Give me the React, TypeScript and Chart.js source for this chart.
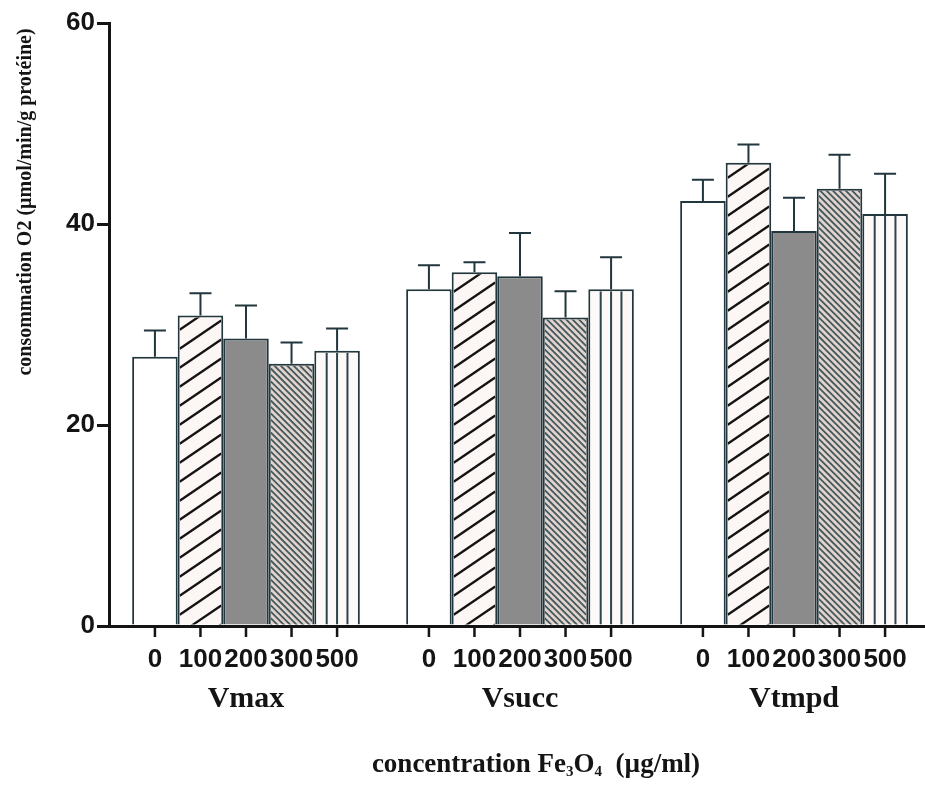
import React, { useEffect, useRef } from 'react';
import { Chart, registerables } from 'chart.js';

Chart.register(...registerables);

// ---- data ----
const groups = ['Vmax', 'Vsucc', 'Vtmpd'];
const concentrations = ['0', '100', '200', '300', '500'];
const mean0 = [26.8, 33.5, 42.3];
const err0 = [2.6, 2.4, 2.1];
const mean100 = [30.9, 35.2, 46.1];
const err100 = [2.2, 1.0, 1.8];
const mean200 = [28.6, 34.8, 39.3];
const err200 = [3.3, 4.3, 3.3];
const mean300 = [26.1, 30.7, 43.5];
const err300 = [2.1, 2.6, 3.4];
const mean500 = [27.4, 33.5, 41.0];
const err500 = [2.2, 3.2, 4.0];
const yMin = 0;
const yMax = 60;
const yStep = 20;
const yTitle = 'consommation O2 (µmol/min/g protéine)';
const xTitleParts = ['concentration Fe', '3', 'O', '4', '  (µg/ml)'];

const INK = '#141414';
const EDGE = '#22363d';
const BW = 2;

const fills = ['#ffffff', '#fcf7f5', '#8b8b8b', '#e2d3cd', '#fdf9f8'];
const patterns = ['none', 'wide', 'none', 'fine', 'vertical'];

function drawPattern(ctx: CanvasRenderingContext2D, kind: string, left: number, top: number, right: number, base: number) {
  const w = right - left;
  if (kind === 'wide') {
    ctx.strokeStyle = INK;
    ctx.lineWidth = 2.3;
    const gap = 19;
    const rise = w * 0.68;
    ctx.beginPath();
    for (let y0 = base + rise; y0 > top - gap; y0 -= gap) {
      ctx.moveTo(left, y0);
      ctx.lineTo(right, y0 - rise);
    }
    ctx.stroke();
  } else if (kind === 'fine') {
    ctx.strokeStyle = '#44595f';
    ctx.lineWidth = 1.8;
    const gap = 6.4;
    ctx.beginPath();
    for (let y0 = base; y0 > top - w - gap; y0 -= gap) {
      ctx.moveTo(left, y0);
      ctx.lineTo(right, y0 + w);
    }
    ctx.stroke();
  } else if (kind === 'vertical') {
    ctx.strokeStyle = '#2c444c';
    ctx.lineWidth = 2;
    ctx.beginPath();
    for (let k = 1; k <= 3; k++) {
      const x = left + (w * k) / 4;
      ctx.moveTo(x, top);
      ctx.lineTo(x, base);
    }
    ctx.stroke();
  }
}

const decorPlugin = {
  id: 'decor',
  afterDatasetsDraw(chart: any) {
    const ctx: CanvasRenderingContext2D = chart.ctx;
    const yScale = chart.scales.y;
    const xScale = chart.scales.x;
    chart.data.datasets.forEach((ds: any, di: number) => {
      const meta = chart.getDatasetMeta(di);
      meta.data.forEach((bar: any, j: number) => {
        const { x, y, base, width } = bar.getProps(['x', 'y', 'base', 'width'], true);
        const left = x - width / 2;
        const right = x + width / 2;
        // pattern inside the bar
        ctx.save();
        ctx.beginPath();
        ctx.rect(left + BW, y + BW, width - 2 * BW, base - y - BW);
        ctx.clip();
        drawPattern(ctx, patterns[di], left + BW, y + BW, right - BW, base);
        ctx.restore();
        // error bar (upper only)
        const v = ds.data[j];
        const e = ds.errors[j];
        const yTop = yScale.getPixelForValue(v + e);
        ctx.save();
        ctx.strokeStyle = EDGE;
        ctx.lineWidth = 2;
        ctx.beginPath();
        ctx.moveTo(x, y);
        ctx.lineTo(x, yTop);
        ctx.moveTo(x - 11, yTop);
        ctx.lineTo(x + 11, yTop);
        ctx.stroke();
        ctx.restore();
        // tick under the axis and concentration label
        ctx.save();
        ctx.strokeStyle = INK;
        ctx.lineWidth = 2.5;
        ctx.beginPath();
        ctx.moveTo(x, xScale.top);
        ctx.lineTo(x, xScale.top + 11);
        ctx.stroke();
        ctx.fillStyle = INK;
        ctx.font = 'bold 26px "Liberation Sans", Arial, sans-serif';
        ctx.textAlign = 'center';
        ctx.textBaseline = 'middle';
        ctx.fillText(ds.label, x, xScale.top + 34);
        ctx.restore();
      });
    });
  },
  afterDraw(chart: any) {
    const ctx: CanvasRenderingContext2D = chart.ctx;
    const yScale = chart.scales.y;
    const xScale = chart.scales.x;
    // y axis title
    ctx.save();
    ctx.fillStyle = INK;
    ctx.font = 'bold 20px "Liberation Serif", "Times New Roman", serif';
    ctx.textAlign = 'center';
    ctx.textBaseline = 'middle';
    ctx.translate(yScale.left + 26, yScale.top + 179);
    ctx.rotate(-Math.PI / 2);
    ctx.fillText(yTitle, 0, 0);
    ctx.restore();
    // x axis title with subscripts
    ctx.save();
    ctx.fillStyle = INK;
    const bigFont = 'bold 27px "Liberation Serif", "Times New Roman", serif';
    const subFont = 'bold 15px "Liberation Serif", "Times New Roman", serif';
    const widths = xTitleParts.map((p, i) => {
      ctx.font = i % 2 === 1 ? subFont : bigFont;
      return ctx.measureText(p).width;
    });
    const total = widths.reduce((a, b) => a + b, 0);
    const cx = (chart.chartArea.left + chart.chartArea.right) / 2 + 16;
    const baseY = xScale.top + 146;
    let x = cx - total / 2;
    ctx.textAlign = 'left';
    ctx.textBaseline = 'alphabetic';
    xTitleParts.forEach((p, i) => {
      const sub = i % 2 === 1;
      ctx.font = sub ? subFont : bigFont;
      ctx.fillText(p, x, baseY + (sub ? 4 : 0));
      x += widths[i];
    });
    ctx.restore();
  },
};

export default function App() {
  const canvasRef = useRef<HTMLCanvasElement | null>(null);

  useEffect(() => {
    const canvas = canvasRef.current;
    if (!canvas) return;
    const means = [mean0, mean100, mean200, mean300, mean500];
    const errs = [err0, err100, err200, err300, err500];
    const chart = new Chart(canvas, {
      type: 'bar',
      data: {
        labels: groups,
        datasets: concentrations.map((c, i) => ({
          label: c,
          data: means[i],
          errors: errs[i],
          backgroundColor: fills[i],
          borderColor: EDGE,
          borderWidth: BW,
          borderSkipped: 'start',
          categoryPercentage: 0.831,
          barPercentage: 1,
        })) as any,
      },
      options: {
        responsive: false,
        animation: false,
        devicePixelRatio: 1,
        layout: { padding: { top: 23, left: 0, right: 0, bottom: 0 } },
        plugins: {
          legend: { display: false },
          tooltip: { enabled: false },
        },
        scales: {
          x: {
            type: 'category',
            afterFit: (s: any) => { s.height = 159; },
            border: { display: true, color: INK, width: 3 },
            grid: { display: false, drawTicks: false, tickLength: 0 },
            ticks: {
              color: INK,
              font: { family: '"Liberation Serif", "Times New Roman", serif', size: 30, weight: 'bold' },
              padding: 55,
              maxRotation: 0,
              autoSkip: false,
            },
          },
          y: {
            min: yMin,
            max: yMax,
            afterFit: (s: any) => { s.width = 109; },
            border: { display: true, color: INK, width: 3 },
            grid: { drawOnChartArea: false, drawTicks: true, tickLength: 12, color: INK, lineWidth: 3 },
            ticks: {
              stepSize: yStep,
              color: INK,
              padding: 2,
              font: { family: '"Liberation Sans", Arial, sans-serif', size: 26, weight: 'bold' },
            },
          },
        },
      } as any,
      plugins: [decorPlugin],
    });
    return () => chart.destroy();
  }, []);

  return (
    <div style={{ position: 'fixed', left: 0, top: 0, width: 925, height: 785, overflow: 'hidden', background: '#fff' }}>
      <canvas ref={canvasRef} width={931} height={785} style={{ display: 'block' }} />
    </div>
  );
}
